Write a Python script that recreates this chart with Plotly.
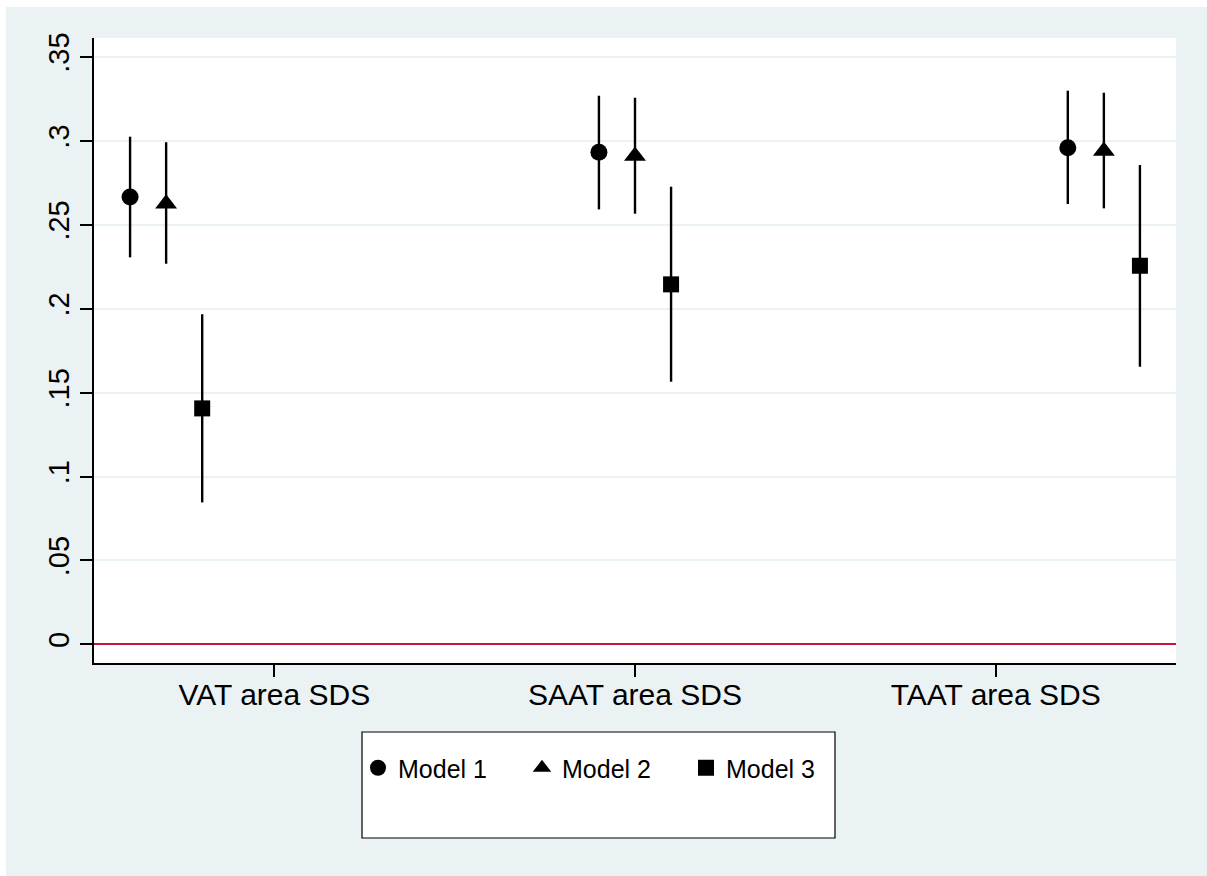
import plotly.graph_objects as go

# ---- data ----
categories = ["VAT area SDS", "SAAT area SDS", "TAAT area SDS"]
models = ["Model 1", "Model 2", "Model 3"]

m1_est = [0.2666, 0.2932, 0.2959]
m1_lo = [0.2306, 0.2592, 0.2624]
m1_hi = [0.3025, 0.3269, 0.3299]

m2_est = [0.2625, 0.2910, 0.2940]
m2_lo = [0.2268, 0.2566, 0.2598]
m2_hi = [0.2992, 0.3257, 0.3287]

m3_est = [0.1406, 0.2145, 0.2256]
m3_lo = [0.0846, 0.1565, 0.1654]
m3_hi = [0.1967, 0.2727, 0.2856]

ytick_vals = [0, 0.05, 0.1, 0.15, 0.2, 0.25, 0.3, 0.35]
ytick_text = ["0", ".05", ".1", ".15", ".2", ".25", ".3", ".35"]

# ---- styling ----
BG = "#EAF2F3"
FONT = "Liberation Sans, Arial, Helvetica, sans-serif"
OX, OY = 6, 7                      # page offset of the figure (white margin)
EXTRA = 12                         # background bleed past the window edge
W, H = 1207 - OX + EXTRA, 876 - OY + EXTRA
L, T = 94 - OX, 38 - OY
R = W - (1176 - OX)
B = H - (663 - OY)
PW, PH = W - L - R, H - T - B

# per-model horizontal offsets around each category position
offsets = {
    "Model 1": [-0.4, -0.1, 0.2],
    "Model 2": [-0.3, 0.0, 0.3],
    "Model 3": [-0.2, 0.1, 0.4],
}
symbols = {"Model 1": "circle", "Model 2": "triangle-up", "Model 3": "square"}
sizes = {"Model 1": 17, "Model 2": 19, "Model 3": 16}
series = {
    "Model 1": (m1_est, m1_lo, m1_hi),
    "Model 2": (m2_est, m2_lo, m2_hi),
    "Model 3": (m3_est, m3_lo, m3_hi),
}

fig = go.Figure()
for m in models:
    est, lo, hi = series[m]
    xs = [i + 1 + off for i, off in enumerate(offsets[m])]
    fig.add_trace(go.Scatter(
        x=xs, y=est, mode="markers", name=m,
        marker=dict(symbol=symbols[m], size=sizes[m], color="black",
                    line=dict(width=0)),
        error_y=dict(type="data", symmetric=False,
                     array=[h - e for h, e in zip(hi, est)],
                     arrayminus=[e - l for e, l in zip(est, lo)],
                     color="black", thickness=2.4, width=0),
    ))


def px_x(px):  # absolute page px -> paper fraction
    return (px - OX - L) / PW


def px_y(py):
    return (H - B - (py - OY)) / PH


shapes = [
    # legend box
    dict(type="rect", xref="paper", yref="paper", x0=px_x(362), x1=px_x(835),
         y0=px_y(838), y1=px_y(732), fillcolor="white",
         line=dict(color="black", width=1.2), layer="below"),
]

fig.update_layout(
    width=W, height=H,
    margin=dict(l=L, r=R, t=T, b=B, pad=0),
    paper_bgcolor=BG, plot_bgcolor="white",
    font=dict(family=FONT, color="black", size=29),
    showlegend=True,
    legend=dict(orientation="h", x=px_x(358), xanchor="left",
                y=px_y(768), yanchor="middle",
                bgcolor="rgba(0,0,0,0)", borderwidth=0,
                font=dict(size=25, family=FONT),
                entrywidth=119, entrywidthmode="pixels",
                traceorder="normal"),
    shapes=shapes,
    xaxis=dict(range=[0.5, 3.5], tickvals=[1, 2, 3], ticktext=categories,
               showgrid=False, zeroline=False, showline=True,
               linecolor="black", linewidth=1.5, mirror=False,
               ticks="outside", ticklen=12, tickwidth=1.5, tickcolor="black",
               ticklabelstandoff=-8,
               tickfont=dict(size=30, family=FONT)),
    yaxis=dict(range=[-0.0111, 0.3613], tickvals=ytick_vals,
               ticktext=ytick_text, tickangle=-90,
               showgrid=True, gridcolor=BG, gridwidth=1.5,
               zeroline=True, zerolinecolor="#C8143C", zerolinewidth=2,
               showline=True, linecolor="black",
               linewidth=1.5, ticks="outside", ticklen=12, tickwidth=1.5,
               tickcolor="black", tickfont=dict(size=29, family=FONT)),
)

fig.write_html(
    "out.html",
    post_script=(
        "document.documentElement.style.overflow='hidden';"
        "document.body.style.margin='%dpx 0 0 %dpx';" % (OY, OX)
    ),
)
